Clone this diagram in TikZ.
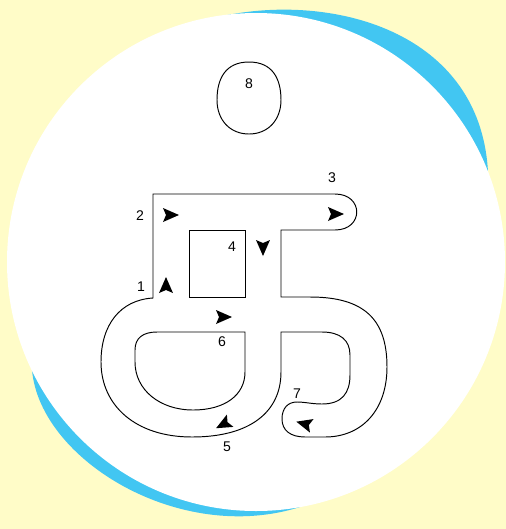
\documentclass[tikz,border=0pt]{standalone}
\usepackage{fontspec}
\setmainfont{Liberation Sans}
\definecolor{paper}{RGB}{255,252,200}
\definecolor{swoosh}{RGB}{66,198,242}
\tikzset{
  outline/.style={line width=0.55pt},
  num/.style={font=\fontsize{8}{9}\selectfont, inner sep=0pt},
  dirtip/.pic={\fill (9,0) -- (-7,7) -- (-4,0) -- (-7,-7) -- cycle;}
}

\begin{document}
\begin{tikzpicture}[x=0.02cm,y=-0.02cm]
        \useasboundingbox (0,0) rectangle (506,529);
        \fill[paper] (0,0) rectangle (506,529);
        \coordinate (C) at (256,262);
        \fill[swoosh] (210,19) .. controls (320,-10) and (480,25) .. (488,172) -- (C) -- cycle;
        \fill[swoosh] (32,370) .. controls (40,460) and (180,545) .. (300,507) -- (C) -- cycle;
        \fill[white] (C) circle [radius=249];
        \draw[outline] (249,62) .. controls (272,62) and (281,78) .. (281,100)
            .. controls (281,120) and (268,134) .. (249,134)
            .. controls (230,134) and (217,120) .. (217,100)
            .. controls (217,78) and (226,62) .. (249,62) -- cycle;
        \draw[outline] (153,298) -- (153,194) -- (335,194)
            .. controls (364,194) and (364,230) .. (335,230) -- (281,230) -- (281,297) -- (310,297)
            .. controls (365,297) and (387,320) .. (387,367)
            .. controls (387,410) and (362,437) .. (325,437) -- (305,437)
            .. controls (290,437) and (282,430) .. (282,419)
            .. controls (282,408) and (288,402) .. (297,402)
            .. controls (305,402) and (312,404) .. (322,404)
            .. controls (342,404) and (350,393) .. (350,375) -- (350,355)
            .. controls (350,340) and (340,332) .. (322,332) -- (281,332) -- (281,372)
            .. controls (281,412) and (250,437) .. (192,437)
            .. controls (135,437) and (101,405) .. (101,362)
            .. controls (101,325) and (120,300) .. (153,298) -- cycle;
        \draw[outline] (189,230) rectangle (245,297);
        \draw[outline] (157,332) -- (245,332) -- (245,372)
            .. controls (245,395) and (225,410) .. (193,410)
            .. controls (160,410) and (135,390) .. (135,362) -- (135,350)
            .. controls (135,338) and (143,332) .. (157,332) -- cycle;
        \node[num] (l1) at (141,287) {1};
        \node[num] (l2) at (140,216) {2};
        \node[num] (l3) at (332,178) {3};
        \node[num] (l4) at (232,247) {4};
        \node[num] (l5) at (227,447) {5};
        \node[num] (l6) at (222,342) {6};
        \node[num] (l7) at (297,394) {7};
        \node[num] (l8) at (249,84) {8};
        \pic[rotate=90] at (166,286) {dirtip};
        \pic at (170,215) {dirtip};
        \pic at (335,214) {dirtip};
        \pic[rotate=-90] at (263,247) {dirtip};
        \pic at (223,317) {dirtip};
        \pic[rotate=208] at (224,424) {dirtip};
        \pic[rotate=165] at (305,424) {dirtip};
    \end{tikzpicture}
\end{document}
